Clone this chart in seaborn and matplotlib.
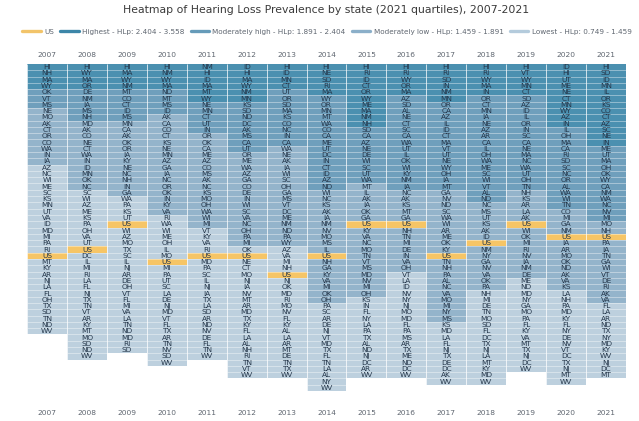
import matplotlib
matplotlib.use("Agg")
import matplotlib.pyplot as plt
import numpy as np
import pandas as pd
import seaborn as sns
from matplotlib.colors import ListedColormap
from matplotlib.lines import Line2D

YEARS = list(range(2007, 2022))

S2007 = "HI NH MA WY OK VT MS NE MO AK CT OR CO WA IN IA AZ NC WI ME SC KS MN UT VA ID MD MI PA RI US MT KY AR NJ LA FL OH TX SD TN ND WV".split()
S2008 = "HI WY MA OR DE NM IA MS NH MD AK CO NE CT WA IN ID MN OK NC SC WI AZ ME KS PA OH VA UT US DC IL MI RI LA FL NJ TX TN VT AR KY MT MO SD ND WV".split()
S2009 = "HI MA WY NM MT CO CT ID MS MN CA AK OK OR IA KY NE NC NH IN GA WA PA KS UT US WI AZ MO TX SC IL NJ AR DE OH VT FL MI VA LA TN ND MD RI SD".split()
S2010 = "HI NM WY MA ND MT MS ID AK CA CO CT KS NE MN AZ GA IA NC OR OK IN KY VA RI WA WI ME OH IL MO US MI PA UT SC LA DE NJ MD VT FL TX AR TN NV SD WV".split()
S2011 = "NM HI ID MA MT WY NE MN CT UT IN OR OK CA ME AZ CO MS AK NC KS MO OH WA WI MI VT KY VA RI US MD PA SC IL NJ IA TX LA SD AR ND NV DE FL TN WV".split()
S2012 = "ID HI MA WY NM MN KS SD ND DC AK MS CA UT OR ME WA AZ GA CO DE IN WI SC VA NC OH PA MI OK US NE CT MO NJ IA NV MT AR MD TX KY FL LA AL NH RI TN VT WV".split()
S2013 = "HI ID MN CT UT OR SD MA KS CO NC IN CA WA NE AK IA WI SC OH GA MS VT DC ME NM ND PA WY AZ VA MI NH US NJ OK MD RI MO NV FL KY AL LA AR MT DE TN TX WV".split()
S2014 = "HI NE SD RI MA WY OR MN MT WA CO CA ME UT DC IN CT ID AZ ND WI NC KS AK IA NM NV MO MS IL US NH GA KY VA MI OK OH PA SC AR DE NJ VT MD TX FL TN LA AL NY WV".split()
S2015 = "HI RI ID CT OR WY ME MA NM NH SD CA AZ NE DE WI SC UT WA MT IL AK IA OK GA US KY VA NC MO TN VT MS MD NV MI OH KS IN FL NY LA PA TX AL ND NJ DC AR WV".split()
S2016 = "HI RI WY OR MA AZ SD AL NE CT SC CA WA UT IL OK WI KY NM IA NC AK KS MT GA US NH TN MI DE IN VA OH VT LA ID NV NY NJ MO MD FL PA MS AR TX ME ND DC WV".split()
S2017 = "HI RI SD IN NM MN OR CA AZ IL ID CT MA VT UT NE WY OH IA MT GA NV ND SC WA WI AR ME OK KY US TN NH PA AL NC VA MO MI NY MS KS MD LA FL NJ TX DE DC AK WV".split()
S2018 = "HI RI WY MA IN OR CT MN IA NE AZ AR CA IL OH WA ME SC WI VT AL ND NC MS UT KS AK ID US NM NY GA NV VA OK PA NH MI DE TN MO SD FL DC TX NJ LA MT KY MD WV".split()
S2019 = "HI VT WY MN CT SD AZ ID IL OR IN SC CA NE MA NC WA UT OH TN NH KS AR LA AK US WI OK MI RI NV IA NM DE ME ND MD NY GA MO PA FL KY VA MT TX NJ DC WV".split()
S2020 = "ID HI UT ME NE CT MN WY AZ IN IL OH MA CA RI SD SC NC OR AL WA WI TN CO MI GA NM US IA AR MO OK ND AK VA KS LA NH PA MD KY FL NY DE NV VT DC TX NJ MT WV".split()
S2021 = "HI SD ID MN IL OR KS CO CT AZ SC NE IN ME UT MA OH OK WY CA NM WA NC NV MI MO NH US PA IA TN GA WI VT DE RI AK VA FL LA AR ND TX NY MD KY WV NJ DC MT".split()
STATES = [S2007, S2008, S2009, S2010, S2011, S2012, S2013, S2014, S2015, S2016, S2017, S2018, S2019, S2020, S2021]

# rows of each year that fall in the top three classes, counted from the top
HIGH_END = [4, 4, 4, 4, 6, 6, 4, 5, 10, 5, 6, 5, 5, 10, 13]
MODHIGH_END = [7, 9, 9, 8, 11, 14, 13, 20, 19, 20, 20, 22, 20, 23, 25]
MODLOW_END = [16, 20, 21, 24, 26, 29, 29, 38, 37, 33, 41, 36, 34, 36, 38]

LEGEND_LABELS = [
    "US",
    "Highest - HLp: 2.404 - 3.558",
    "Moderately high - HLp: 1.891 - 2.404",
    "Moderately low - HLp: 1.459 - 1.891",
    "Lowest - HLp: 0.749 - 1.459",
]
CELL_COLORS = ["#4b90b0", "#6f9fbc", "#94b4cb", "#bdd0de", "#f6c566"]
LINE_COLORS = ["#f2c46a", "#3c86a8", "#669bb9", "#8bafc9", "#b4cbdc"]
TEXT = "#5f6670"


def build_tables():
    n_rows = max(len(s) for s in STATES)
    codes = np.full((n_rows, len(YEARS)), np.nan)
    labels = np.full((n_rows, len(YEARS)), "", dtype=object)
    for col, states in enumerate(STATES):
        for row, state in enumerate(states):
            if state == "US":
                code = 4
            elif row < HIGH_END[col]:
                code = 0
            elif row < MODHIGH_END[col]:
                code = 1
            elif row < MODLOW_END[col]:
                code = 2
            else:
                code = 3
            codes[row, col] = code
            labels[row, col] = state
    return pd.DataFrame(codes, columns=YEARS), labels


def main():
    codes, labels = build_tables()
    sns.set_theme(style="white")
    plt.rcParams["font.family"] = ["DejaVu Sans"]

    fig = plt.figure(figsize=(6.39, 4.21), dpi=100)
    ax = fig.add_axes([27 / 639, 1 - 391 / 421, 599 / 639, 327 / 421])
    sns.heatmap(
        codes,
        mask=codes.isna(),
        cmap=ListedColormap(CELL_COLORS),
        vmin=-0.5,
        vmax=4.5,
        annot=labels,
        fmt="",
        annot_kws={"fontsize": 5.3, "color": "#24364a", "zorder": 4},
        cbar=False,
        yticklabels=False,
        ax=ax,
    )
    # thin pale separators, only as deep as each year's column
    for col, states in enumerate(STATES):
        ax.hlines(np.arange(1, len(states)), col, col + 1, color="white", linewidth=0.5, alpha=0.55, zorder=3)
        ax.vlines(col, 0, len(states), color="white", linewidth=0.7, alpha=0.75, zorder=3)
    ax.set_ylabel("")
    ax.set_xlabel("")
    ax.xaxis.tick_top()
    ax.tick_params(axis="x", length=0, pad=4, labelsize=5.4, labelcolor=TEXT, rotation=0)

    bottom = ax.secondary_xaxis("bottom")
    bottom.set_xticks(ax.get_xticks())
    bottom.set_xticklabels(YEARS)
    bottom.tick_params(axis="x", length=0, pad=14, labelsize=5.4, labelcolor=TEXT)
    bottom.spines["bottom"].set_visible(False)

    handles = [Line2D([], [], color=c, linewidth=2.4) for c in LINE_COLORS]
    fig.legend(
        handles,
        LEGEND_LABELS,
        ncol=5,
        loc="center",
        bbox_to_anchor=(327 / 639, 1 - 32 / 421),
        frameon=False,
        fontsize=5.25,
        labelcolor=TEXT,
        handlelength=2.5,
        handletextpad=0.45,
        columnspacing=0.9,
        borderpad=0,
    )
    fig.text(326 / 639, 1 - 10 / 421, "Heatmap of Hearing Loss Prevalence by state (2021 quartiles), 2007-2021",
             ha="center", va="center", fontsize=7.8, color="#3a3a3a")
    fig.savefig("out.png", dpi=100)


if __name__ == "__main__":
    main()
